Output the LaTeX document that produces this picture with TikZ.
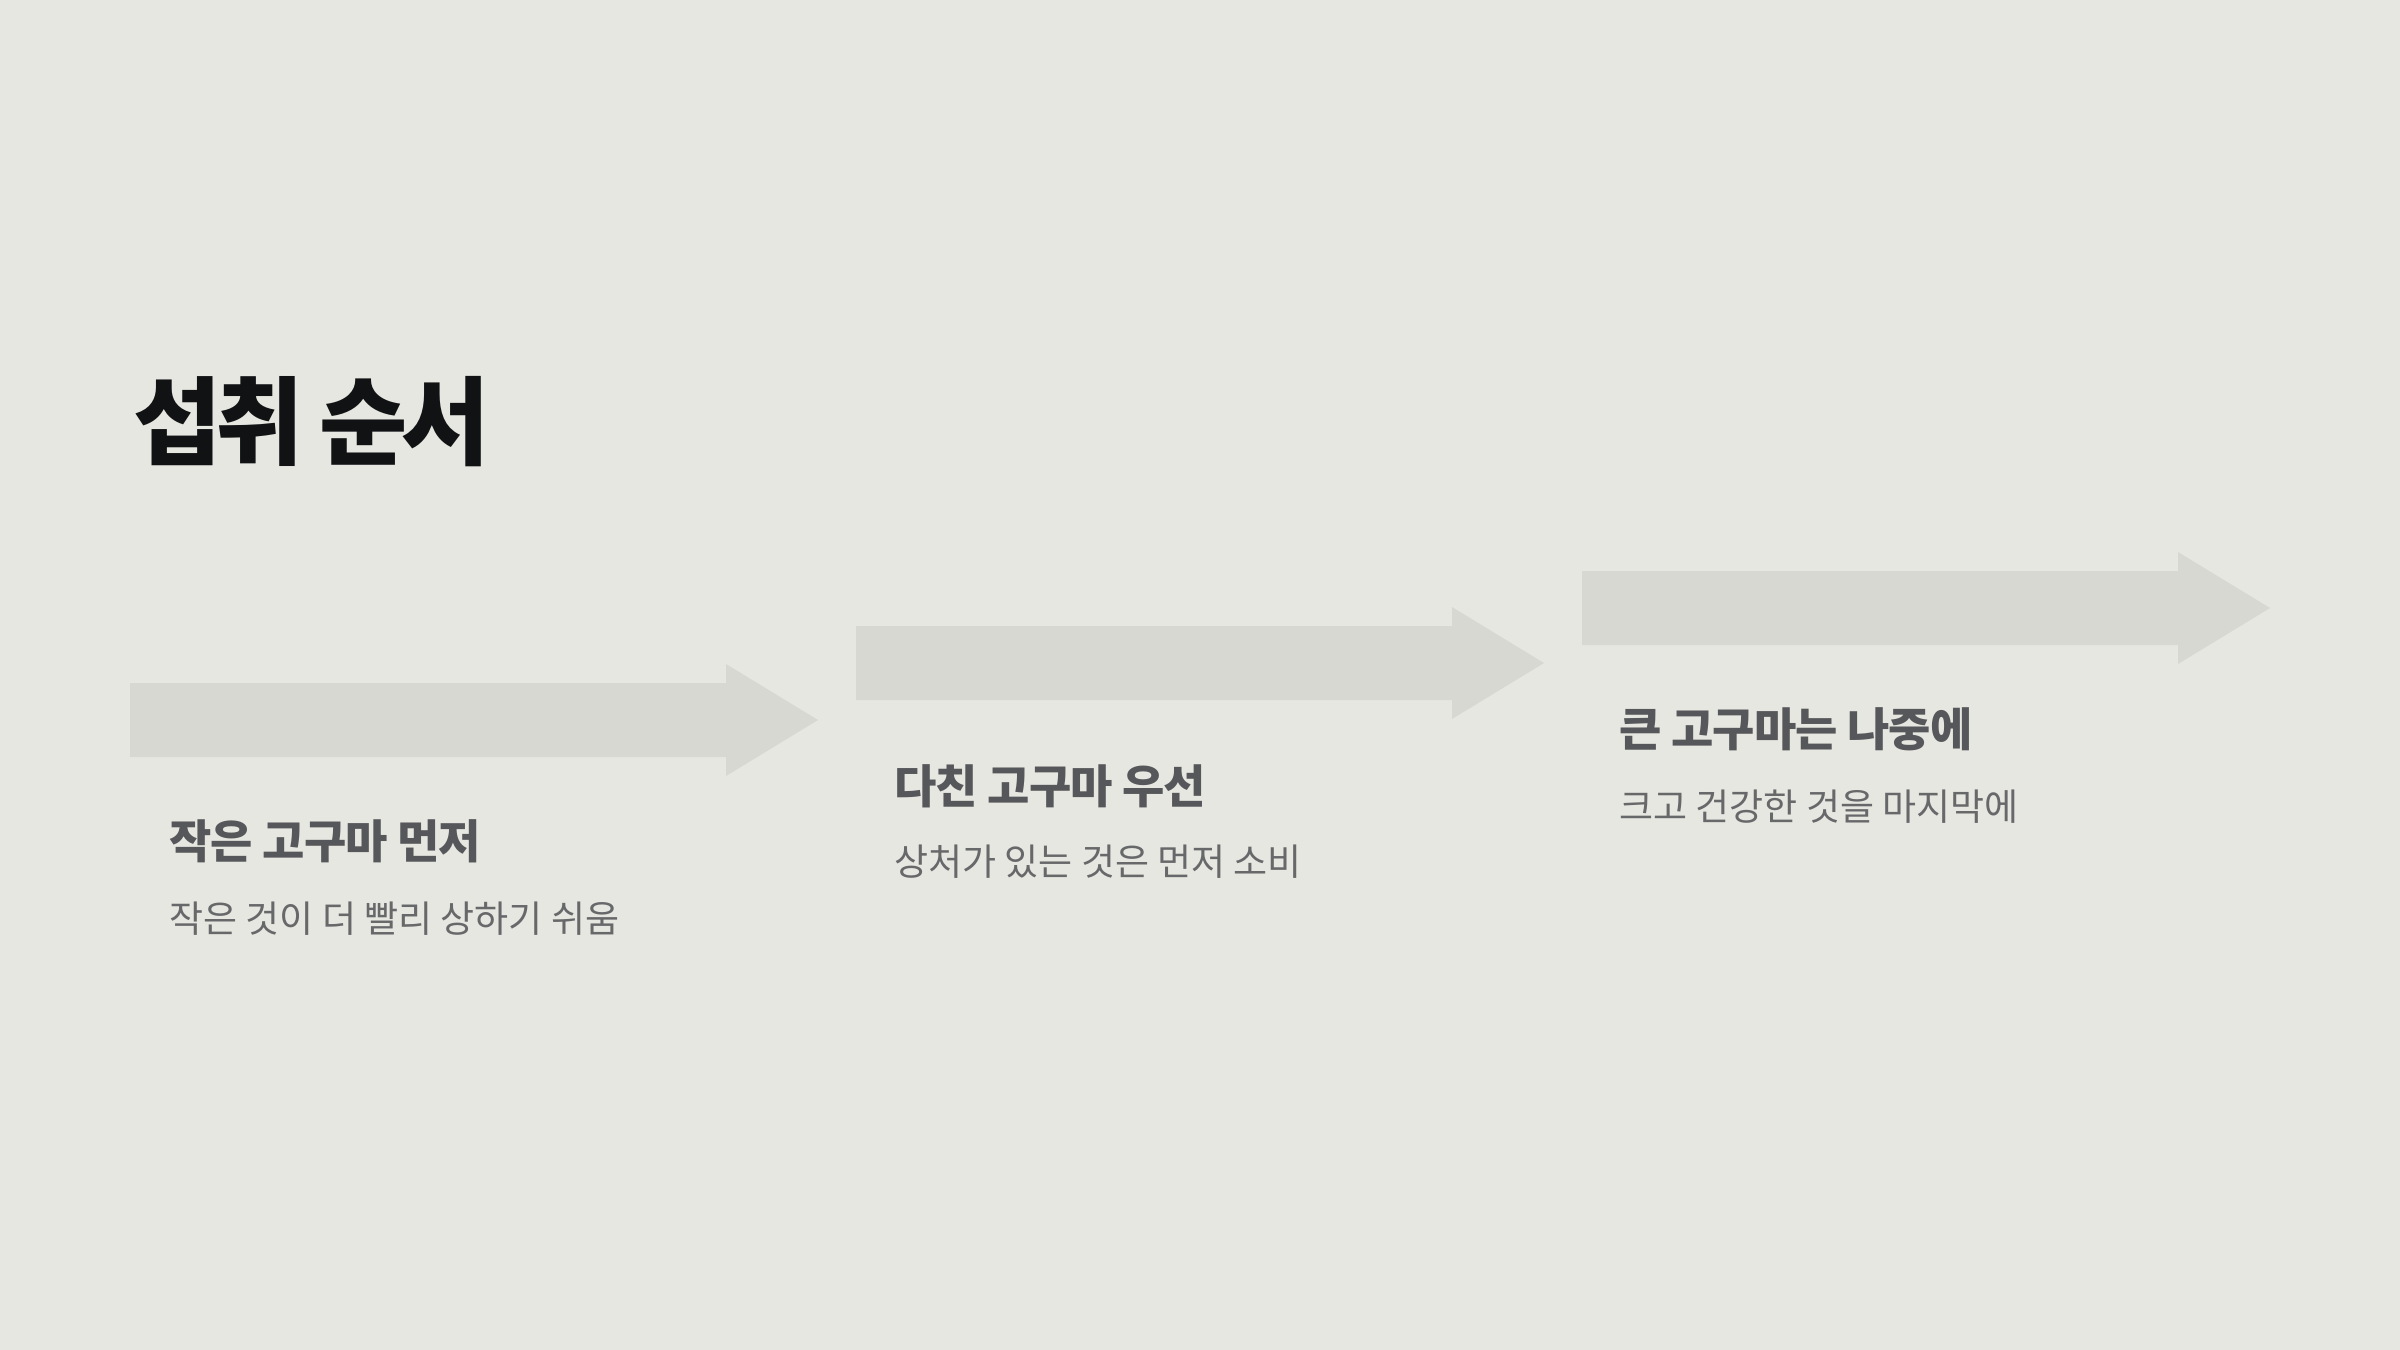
\documentclass[tikz,border=0pt]{standalone}
\usepackage{fontspec}
\setmainfont{Noto Sans CJK KR}
\definecolor{bgc}{HTML}{E7E7E1}
\definecolor{arrc}{HTML}{D8D8D2}
\definecolor{titc}{HTML}{111214}
\definecolor{headc}{HTML}{56575A}
\definecolor{subc}{HTML}{67686A}
\begin{document}
\begin{tikzpicture}[x=0.5pt,y=-0.5pt,
  titletext/.style={anchor=base west,inner sep=0pt,text=titc,font=\fontsize{48}{56}\selectfont\bfseries\addfontfeature{LetterSpace=-6.5}},
  headtext/.style={anchor=base west,inner sep=0pt,text=headc,font=\fontsize{23}{28}\selectfont\bfseries\addfontfeature{LetterSpace=-2}},
  subtext/.style={anchor=base west,inner sep=0pt,text=subc,font=\fontsize{18.5}{22}\selectfont},
  arrowshape/.style={fill=arrc,draw=none}]
\fill[bgc] (0,0) rectangle (2400,1350);
\useasboundingbox (0,0) rectangle (2400,1350);
\node[titletext] (title) at (133,457) {섭취 순서};
% arrows
\foreach \n/\x/\y in {a/130/720, b/856/663, c/1582/608}{
  \fill[arrowshape] (\x,\y-37) -- ++(596,0) -- ++(0,-19) -- ++(92,56) -- ++(-92,56) -- ++(0,-19) -- ++(-596,0) -- cycle;
  \coordinate (\n) at (\x,\y);
}
\node[headtext] (h1) at (169,858) {작은 고구마 먼저};
\node[subtext] (s1) at (169,932) {작은 것이 더 빨리 상하기 쉬움};
\node[headtext] (h2) at (894,803) {다친 고구마 우선};
\node[subtext] (s2) at (894,875) {상처가 있는 것은 먼저 소비};
\node[headtext] (h3) at (1619,746) {큰 고구마는 나중에};
\node[subtext] (s3) at (1619,820) {크고 건강한 것을 마지막에};
\end{tikzpicture}
\end{document}
